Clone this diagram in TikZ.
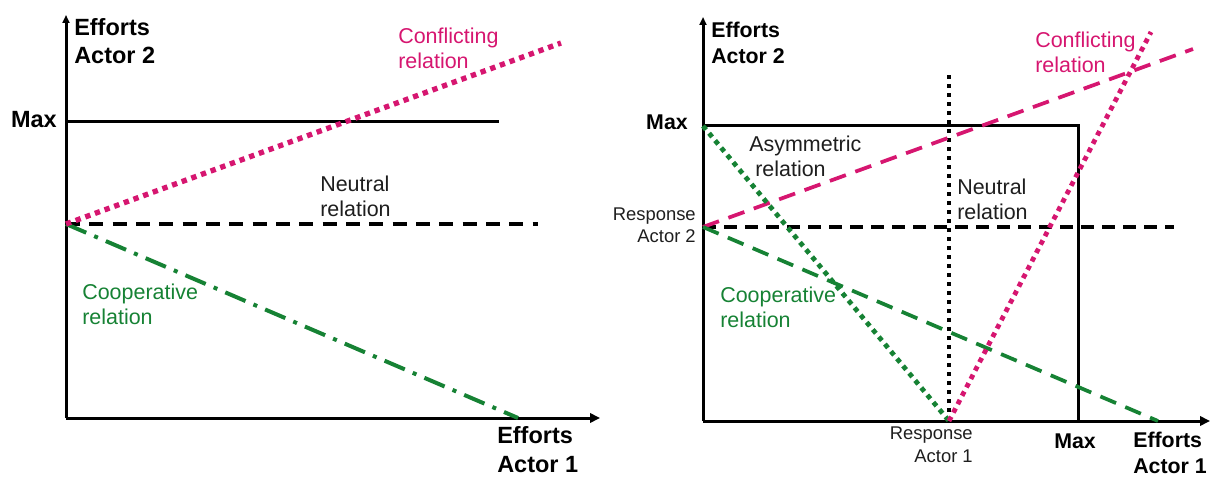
\documentclass[tikz,border=0pt]{standalone}
\usepackage{fontspec}
\setmainfont{Liberation Sans}
\usetikzlibrary{arrows.meta}
\definecolor{cpink}{RGB}{214,22,112}
\definecolor{cgreen}{RGB}{22,130,52}
\definecolor{ctext}{RGB}{30,30,30}
\begin{document}
\begin{tikzpicture}[x=0.75pt,y=-0.75pt,
  xaxis/.style={line width=2.25pt,-{Triangle[length=7.5pt,width=7pt]}},
  yaxis/.style={line width=2.25pt,-{Triangle[length=6pt,width=5.25pt]}},
  solidline/.style={line width=2.25pt},
  dashblackA/.style={line width=2.7pt,dash pattern=on 10.5pt off 7pt},
  dashblackB/.style={line width=2.6pt,dash pattern=on 9.75pt off 6pt},
  dotpinkA/.style={cpink,line width=4pt,dash pattern=on 4pt off 3.7pt},
  dashdotgreen/.style={cgreen,line width=3pt,dash pattern=on 16.5pt off 6.5pt on 3pt off 6.5pt},
  dashcol/.style={line width=2.8pt,dash pattern=on 12.75pt off 7.5pt},
  dotcol/.style={line width=3.6pt,dash pattern=on 3.6pt off 3.5pt},
  dotblack/.style={line width=3.2pt,dash pattern=on 3.2pt off 3.55pt},
  lbl/.style={inner sep=0pt,align=left,font=\fontsize{16.1}{18.75}\selectfont,text=ctext},
  boldA/.style={inner sep=0pt,align=left,font=\bfseries\fontsize{17.6}{21.5}\selectfont},
  boldB/.style={inner sep=0pt,align=left,font=\bfseries\fontsize{16}{19.5}\selectfont},
  small/.style={inner sep=0pt,align=right,font=\fontsize{13.8}{16.9}\selectfont,text=ctext},
]
\useasboundingbox (0,0) rectangle (1214,477);
% ---------- left panel ----------
\coordinate (O1) at (66,418);
\coordinate (Y1) at (66,15);
\coordinate (X1) at (600,418);
\coordinate (M1a) at (66,122);
\coordinate (M1b) at (499,122);
\coordinate (R1) at (66,224);
\coordinate (N1b) at (538,224);
\coordinate (C1) at (561,43);
\coordinate (G1) at (518,418);
\draw[yaxis] (O1) -- (Y1);
\draw[xaxis] (O1) -- (X1);
\draw[solidline] (M1a) -- (M1b);
\draw[dashblackA] (R1) -- (N1b);
\draw[dashdotgreen] (R1) -- (G1);
\draw[dotpinkA] (R1) -- (C1);
\node[boldA,anchor=base west] (ea2l) at (74,64) {Efforts\\Actor 2};
\node[boldA,anchor=base east] (maxl) at (57,128) {Max};
\node[lbl,text=cpink,anchor=base west] (confl) at (398,69) {Conflicting\\relation};
\node[lbl,anchor=base west] (neutl) at (320,217) {Neutral\\relation};
\node[lbl,text=cgreen,anchor=base west] (coopl) at (82,325) {Cooperative\\relation};
\node[boldA,anchor=base west] (ea1l) at (497,472) {Efforts\\Actor 1};
% ---------- right panel ----------
\coordinate (O2) at (703,421);
\coordinate (Y2) at (703,17);
\coordinate (X2) at (1210,421);
\coordinate (MY) at (703,126);
\coordinate (BTR) at (1078,126);
\coordinate (BBR) at (1078,421);
\coordinate (Vt) at (949,75);
\coordinate (Vb) at (949,421);
\coordinate (R2) at (703,227);
\coordinate (N2b) at (1174,227);
\coordinate (Pd) at (1193,49);
\coordinate (Pt) at (1151,32);
\coordinate (Gd) at (1158,421);
\draw[yaxis] (O2) -- (Y2);
\draw[xaxis] (O2) -- (X2);
\draw[solidline] (MY) -- (BTR) -- (BBR);
\draw[dashblackB] (R2) -- (N2b);
\draw[dotblack] (Vb) -- (Vt);
\draw[dashcol,cpink] (R2) -- (Pd);
\draw[dashcol,cgreen] (R2) -- (Gd);
\draw[dotcol,cgreen] (MY) -- (Vb);
\draw[dotcol,cpink] (Vb) -- (Pt);
\node[boldB,anchor=base west] (ea2r) at (711,64) {Efforts\\Actor 2};
\node[boldB,anchor=base east] (maxr) at (688,130) {Max};
\node[lbl,anchor=base west] (asym) at (749,177) {Asymmetric\\\hspace*{4.5pt}relation};
\node[lbl,anchor=base west] (neutr) at (957,220) {Neutral\\relation};
\node[small,anchor=base east] (resp2) at (696,243) {Response\\Actor 2};
\node[lbl,text=cgreen,anchor=base west] (coopr) at (720,328) {Cooperative\\relation};
\node[lbl,text=cpink,anchor=base west] (confr) at (1035,73) {Conflicting\\relation};
\node[small,anchor=base east] (resp1) at (973,462) {Response\\Actor 1};
\node[boldB,anchor=base west] (maxb) at (1054,448) {Max};
\node[boldB,anchor=base west] (ea1r) at (1133,473) {Efforts\\Actor 1};
\end{tikzpicture}
\end{document}
